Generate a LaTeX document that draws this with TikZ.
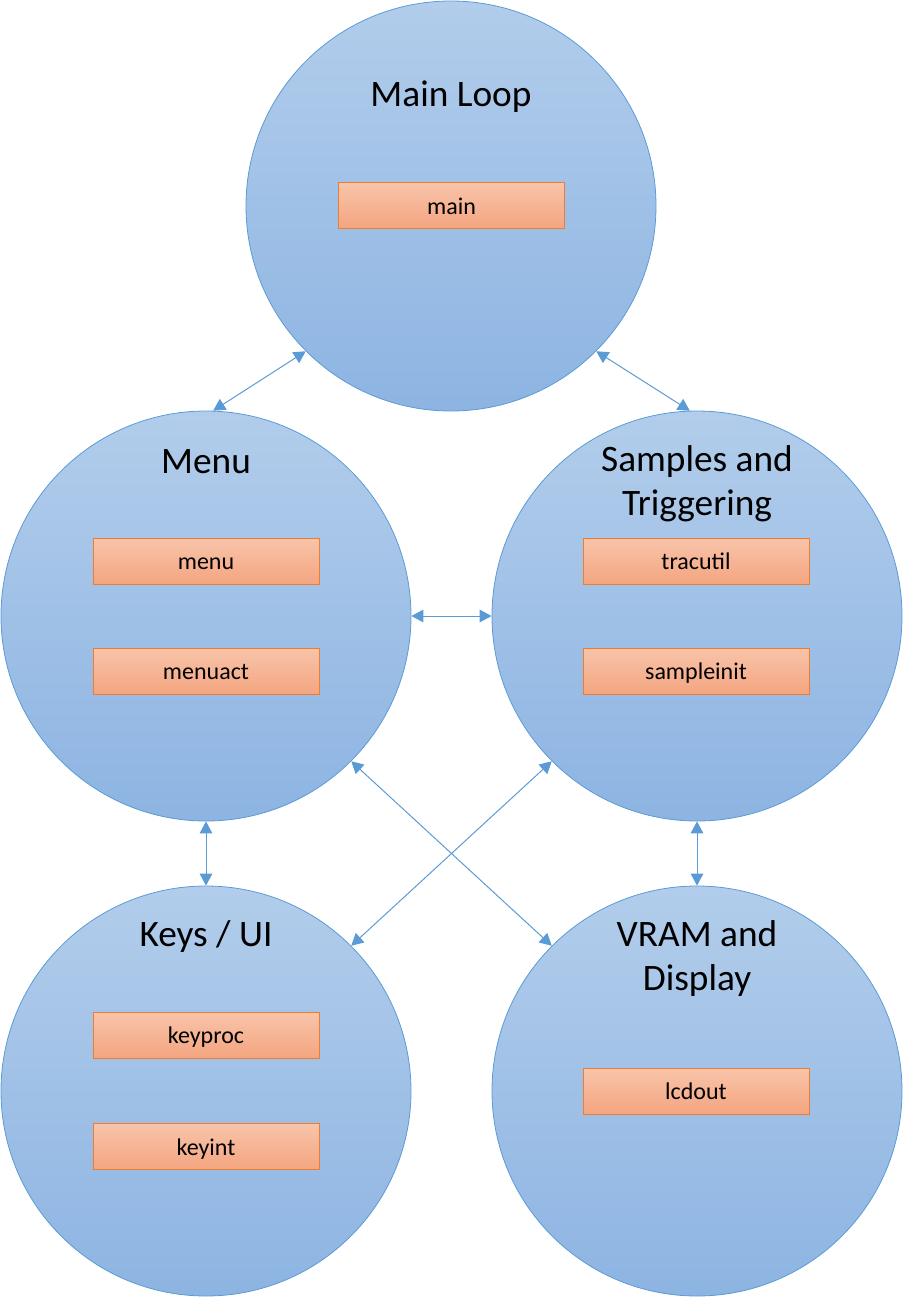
\documentclass[tikz,border=0pt]{standalone}
\usepackage{fontspec}
\setmainfont{Carlito}
\usetikzlibrary{arrows.meta}
\definecolor{cirtop}{HTML}{B2CDEB}
\definecolor{cirbot}{HTML}{8DB4E2}
\definecolor{cirline}{HTML}{5B9BD5}
\definecolor{boxtop}{HTML}{F8C4AA}
\definecolor{boxbot}{HTML}{F4A580}
\definecolor{boxline}{HTML}{ED7D31}
\tikzset{
  module/.style={circle, draw=cirline, line width=0.6pt, top color=cirtop, bottom color=cirbot, minimum size=410*0.75pt, inner sep=0pt},
  func/.style={draw=boxline, line width=0.75pt, top color=boxtop, bottom color=boxbot, minimum width=226*0.75pt, minimum height=46*0.75pt, inner sep=0pt, text height=15pt, text depth=2.2pt, font=\fontsize{18pt}{22pt}\selectfont},
  ttl/.style={align=center, font=\fontsize{28pt}{33pt}\selectfont},
  link/.style={draw=cirline, line width=0.75pt, {Triangle[length=9pt,width=9.5pt]}-{Triangle[length=9pt,width=9.5pt]}}
}
\begin{document}
\begin{tikzpicture}[x=0.75pt,y=-0.75pt]
\useasboundingbox (0,0) rectangle (903,1297);
\node[module] (mainc) at (451,206) {};
\node[module] (menuc) at (206,616) {};
\node[module] (sampc) at (697,616) {};
\node[module] (keysc) at (206,1091) {};
\node[module] (vramc) at (697,1091) {};

\node[ttl] (t1) at (451,97) {Main Loop};
\node[ttl] (t2) at (206,462) {Menu};
\node[ttl] (t3) at (697,484) {Samples and\\Triggering};
\node[ttl] (t4) at (206,937) {Keys / UI};
\node[ttl] (t5) at (697,959) {VRAM and\\Display};

\node[func] (b1) at (451.5,205.5) {main};
\node[func] (b2) at (206,561) {menu};
\node[func] (b3) at (206,671) {menuact};
\node[func] (b4) at (696,561) {tracutil};
\node[func] (b5) at (696,671) {sampleinit};
\node[func] (b6) at (206,1035) {keyproc};
\node[func] (b7) at (206,1146.5) {keyint};
\node[func] (b8) at (696,1091) {lcdout};

\draw[link] (mainc.225) -- (menuc.88);
\draw[link] (mainc.-45) -- (sampc.92);
\draw[link] (menuc.east) -- (sampc.west);
\draw[link] (menuc.south) -- (keysc.north);
\draw[link] (sampc.south) -- (vramc.north);
\draw[link] (menuc.-45) -- (vramc.135);
\draw[link] (sampc.225) -- (keysc.45);
\end{tikzpicture}
\end{document}
